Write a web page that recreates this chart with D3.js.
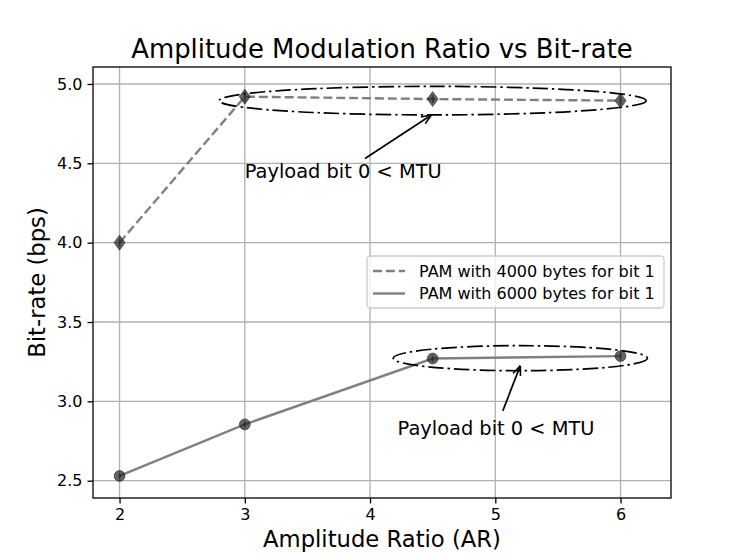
<!DOCTYPE html>
<html>
<head>
<meta charset="UTF-8">
<title>Amplitude Modulation Ratio vs Bit-rate</title>
<script src="https://cdn.jsdelivr.net/npm/d3@7/dist/d3.min.js"></script>
<style>
  * { margin: 0; padding: 0; }
  body { background: #fff; }
  text { font-family: "DejaVu Sans", sans-serif; fill: #000; }
</style>
</head>
<body>
<div id="chart"></div>
<script>
// data
var ratios = [2, 3, 4.5, 6];
var rate4000 = [4.00, 4.92, 4.905, 4.895];
var rate6000 = [2.53, 2.855, 3.27, 3.285];
var err4000 = [0.025, 0.03, 0.025, 0.025];
var err6000 = [0.015, 0.015, 0.02, 0.02];
var seriesNames = ["PAM with 4000 bytes for bit 1", "PAM with 6000 bytes for bit 1"];
var xTicks = [2, 3, 4, 5, 6];
var yTicks = [2.5, 3.0, 3.5, 4.0, 4.5, 5.0];
var noteText = "Payload bit 0 < MTU";
// ellipses: [cx, cy, width, height]
var ellipses = [[4.5, 4.895, 3.41, 0.18], [5.2, 3.272, 2.03, 0.158]];
// annotations: text pos (left, baseline) and arrow tail -> head
var notes = [
  { tx: 3.0, ty: 4.405, ax: 3.96, ay: 4.53, hx: 4.49, hy: 4.805 },
  { tx: 4.22, ty: 2.79, ax: 5.06, ay: 2.94, hx: 5.2, hy: 3.225 }
];

var W = 747, H = 560;
var m = { left: 93, right: 76, top: 67, bottom: 62 };

var svg = d3.select("#chart").append("svg")
  .attr("width", W).attr("height", H);

var x = d3.scaleLinear().domain([1.788, 6.403]).range([m.left, W - m.right]);
var y = d3.scaleLinear().domain([2.391, 5.107]).range([H - m.bottom, m.top]);

var defs = svg.append("defs");
defs.append("clipPath").attr("id", "clip").append("rect")
  .attr("x", m.left).attr("y", m.top)
  .attr("width", W - m.left - m.right).attr("height", H - m.top - m.bottom);

// grid
var grid = svg.append("g");
grid.selectAll(".gx").data(xTicks).enter().append("line")
  .attr("x1", d => x(d)).attr("x2", d => x(d))
  .attr("y1", m.top).attr("y2", H - m.bottom)
  .attr("stroke", "#b0b0b0").attr("stroke-width", 1.3);
grid.selectAll(".gy").data(yTicks).enter().append("line")
  .attr("x1", m.left).attr("x2", W - m.right)
  .attr("y1", d => y(d)).attr("y2", d => y(d))
  .attr("stroke", "#b0b0b0").attr("stroke-width", 1.3);

// axes
var xAxis = svg.append("g").attr("transform", "translate(0," + (H - m.bottom) + ")")
  .call(d3.axisBottom(x).tickValues(xTicks).tickFormat(d3.format("d")).tickSize(5.5).tickPadding(5));
var yAxis = svg.append("g").attr("transform", "translate(" + m.left + ",0)")
  .call(d3.axisLeft(y).tickValues(yTicks).tickFormat(d3.format(".1f")).tickSize(5.5).tickPadding(5));
[xAxis, yAxis].forEach(function(a) {
  a.select(".domain").remove();
  a.selectAll("line").attr("stroke", "#000").attr("stroke-width", 1.3);
  a.selectAll("text").attr("font-size", "16px").attr("font-family", "DejaVu Sans");
});

// series lines
var plot = svg.append("g").attr("clip-path", "url(#clip)");
var line = d3.line().x(d => x(d[0])).y(d => y(d[1]));
plot.append("path").datum(d3.zip(ratios, rate4000)).attr("d", line)
  .attr("fill", "none").attr("stroke", "#808080").attr("stroke-width", 2.4)
  .attr("stroke-dasharray", "9,3.9");
plot.append("path").datum(d3.zip(ratios, rate6000)).attr("d", line)
  .attr("fill", "none").attr("stroke", "#808080").attr("stroke-width", 2.4);

// error bars
function errBars(vals, errs) {
  plot.selectAll(null).data(d3.zip(ratios, vals, errs)).enter().append("line")
    .attr("x1", d => x(d[0])).attr("x2", d => x(d[0]))
    .attr("y1", d => y(d[1] - d[2])).attr("y2", d => y(d[1] + d[2]))
    .attr("stroke", "#333").attr("stroke-opacity", 0.7).attr("stroke-width", 2);
}
errBars(rate4000, err4000);
errBars(rate6000, err6000);

// markers
plot.selectAll(".dia").data(d3.zip(ratios, rate4000)).enter().append("path")
  .attr("d", "M0,-7.5L5.5,0L0,7.5L-5.5,0Z")
  .attr("transform", d => "translate(" + x(d[0]) + "," + y(d[1]) + ")")
  .attr("fill", "#222").attr("fill-opacity", 0.7)
  .attr("stroke", "#222").attr("stroke-opacity", 0.6).attr("stroke-width", 1);
plot.selectAll(".dot").data(d3.zip(ratios, rate6000)).enter().append("circle")
  .attr("cx", d => x(d[0])).attr("cy", d => y(d[1])).attr("r", 5.4)
  .attr("fill", "#222").attr("fill-opacity", 0.7)
  .attr("stroke", "#222").attr("stroke-opacity", 0.6).attr("stroke-width", 1);

// ellipses
plot.selectAll(".ell").data(ellipses).enter().append("ellipse")
  .attr("cx", d => x(d[0])).attr("cy", d => y(d[1]))
  .attr("rx", d => (x(d[2]) - x(0)) / 2).attr("ry", d => (y(0) - y(d[3])) / 2)
  .attr("fill", "none").attr("stroke", "#000").attr("stroke-width", 1.7)
  .attr("stroke-dasharray", "15.5,3.9,2.4,3.9");

// annotations
defs.append("marker").attr("id", "arrow").attr("viewBox", "0 0 10 10")
  .attr("refX", 10).attr("refY", 5).attr("markerWidth", 10).attr("markerHeight", 10)
  .attr("markerUnits", "userSpaceOnUse").attr("orient", "auto")
  .append("path").attr("d", "M0,1L10,5L0,9").attr("fill", "none")
  .attr("stroke", "#000").attr("stroke-width", 1.6);
notes.forEach(function(n) {
  svg.append("text").attr("x", x(n.tx)).attr("y", y(n.ty))
    .attr("font-size", "19.4px").text(noteText);
  svg.append("line").attr("x1", x(n.ax)).attr("y1", y(n.ay))
    .attr("x2", x(n.hx)).attr("y2", y(n.hy))
    .attr("stroke", "#000").attr("stroke-width", 1.7)
    .attr("marker-end", "url(#arrow)");
});

// frame
svg.append("rect").attr("x", m.left).attr("y", m.top)
  .attr("width", W - m.left - m.right).attr("height", H - m.top - m.bottom)
  .attr("fill", "none").attr("stroke", "#000").attr("stroke-width", 1.3);

// legend
var lg = svg.append("g").attr("transform", "translate(367,256)");
lg.append("rect").attr("width", 297).attr("height", 52).attr("rx", 3.5)
  .attr("fill", "#fff").attr("fill-opacity", 0.8)
  .attr("stroke", "#cccccc").attr("stroke-width", 1.3);
seriesNames.forEach(function(name, i) {
  var row = lg.append("g").attr("transform", "translate(0," + (15 + i * 22.5) + ")");
  row.append("line").attr("x1", 6).attr("x2", 38).attr("y1", 0).attr("y2", 0)
    .attr("stroke", "#808080").attr("stroke-width", 2.4)
    .attr("stroke-dasharray", i === 0 ? "9,3.9" : null);
  row.append("text").attr("x", 52).attr("y", 5.6).attr("font-size", "16px").text(name);
});

// titles
svg.append("text").attr("x", (m.left + W - m.right) / 2).attr("y", 58)
  .attr("text-anchor", "middle").attr("font-size", "25.9px")
  .text("Amplitude Modulation Ratio vs Bit-rate");
svg.append("text").attr("x", (m.left + W - m.right) / 2).attr("y", 547)
  .attr("text-anchor", "middle").attr("font-size", "22.7px")
  .text("Amplitude Ratio (AR)");
svg.append("text")
  .attr("transform", "translate(45," + ((m.top + H - m.bottom) / 2) + ") rotate(-90)")
  .attr("text-anchor", "middle").attr("font-size", "22.7px")
  .text("Bit-rate (bps)");
</script>
</body>
</html>
